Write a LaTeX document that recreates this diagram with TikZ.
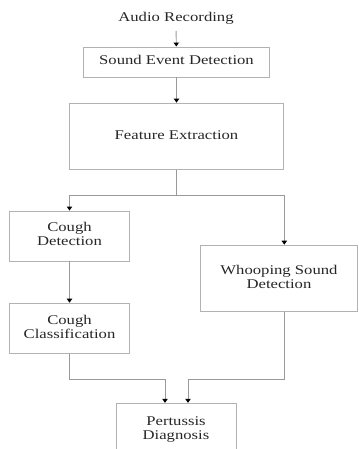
\documentclass[tikz,border=0pt]{standalone}
\usepackage{fontspec}
\setmainfont{Liberation Serif}
\usetikzlibrary{arrows.meta,calc}
% text in the figure is set a little wide
\newcommand{\wide}[1]{\scalebox{1.25}[1]{\begin{tabular}{@{}c@{}}#1\end{tabular}}}

\begin{document}
\begin{tikzpicture}[x=0.75pt, y=-0.75pt, font=\fontsize{10}{10.7}\selectfont,
    box/.style = {draw=black!30, line width=0.7pt, text=black!85, align=center, inner sep=0pt},
    link/.style = {draw=black!40, line width=0.7pt, -{Triangle[length=3pt,width=4pt,black]}}]
    \useasboundingbox (0,0) rectangle (359,449);
    \node[text=black!85] (audio) at (176,19) {\wide{Audio Recording}};
    \node[box, minimum width=140pt, minimum height=22.5pt] (sed) at (176.5,62) {\wide{Sound Event Detection}};
    \node[box, minimum width=161pt, minimum height=50pt] (fe) at (176.5,136.5) {\wide{Feature Extraction}};
    \node[box, minimum width=90pt, minimum height=37.5pt] (cd) at (69.5,236) {\wide{Cough\\Detection}};
    \node[box, minimum width=90pt, minimum height=38pt] (cc) at (69.5,328.5) {\wide{Cough\\Classification}};
    \node[box, minimum width=118pt, minimum height=50pt] (ws) at (279,278.5) {\wide{Whooping Sound\\Detection}};
    \node[box, minimum width=90pt, minimum height=40pt] (pd) at (176,430) {\wide{Pertussis\\Diagnosis}};
    \coordinate (split) at (176.5,195);

    \draw[link] (audio) -- (sed);
    \draw[link] (sed) -- (fe);
    \draw[link] (fe.south) -- (split) -| (cd.north);
    \draw[link] (split) -| (fe.east |- ws.north);
    \draw[link] (cd) -- (cc);
    \draw[link] (cc.south) -- (cc.south |- 0,379) -| ($(pd.north)+(-11,0)$);
    \draw[link] (fe.east |- ws.south) -- (fe.east |- 0,379) -| ($(pd.north)+(12,0)$);
\end{tikzpicture}
\end{document}
